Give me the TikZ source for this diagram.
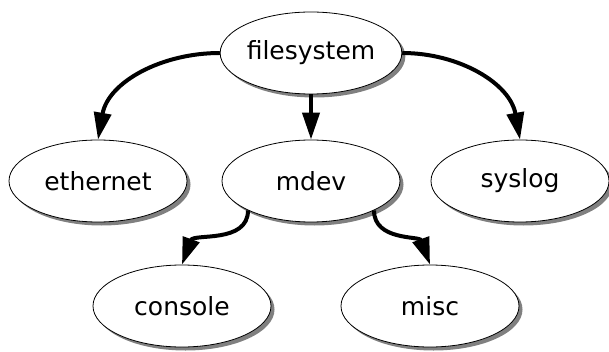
\documentclass[tikz,border=0pt]{standalone}
\usepackage{fontspec}
\setmainfont{DejaVu Sans}
\usetikzlibrary{shapes.geometric,shadows,arrows.meta}

\tikzset{
  unit/.style={ellipse, draw=black, line width=0.8pt, fill=white,
    minimum width=178pt, minimum height=82pt, inner sep=0pt,
    font=\fontsize{25}{29}\selectfont,
    drop shadow={shadow xshift=3.5pt, shadow yshift=-3.5pt, fill=black!50, opacity=1}},
  dep/.style={line width=4pt, -{Triangle[length=27pt,width=17pt]}}
}

\begin{document}
\begin{tikzpicture}[x=1pt,y=1pt]
			%%%%% START %%%%%
			\useasboundingbox (0,0) rectangle (609,351);
			
			\node[unit] (filesystem) at (311, 298) {filesystem};
			
			\node[unit] (ethernet) at (98, 170) {ethernet};
			\node[unit] (mdev) at (311, 170) {mdev};
			\node[unit] (syslog) at (520, 170) {syslog};
			
			\node[unit] (console) at (182, 45) {console};
			\node[unit] (misc) at (430, 45) {misc};
			
			\draw[dep] (filesystem.west) to[out=180, in=80] (ethernet.north);
			\draw[dep] (filesystem.south) -- (mdev.north);
			\draw[dep] (filesystem.east) to[out=0, in=100] (syslog.north);
			
			\draw[dep] (mdev.205) to[out=-90, in=70] (console.north);
			\draw[dep] (mdev.335) to[out=-90, in=110] (misc.north);
			%%%%% END %%%%%
\end{tikzpicture}
\end{document}
